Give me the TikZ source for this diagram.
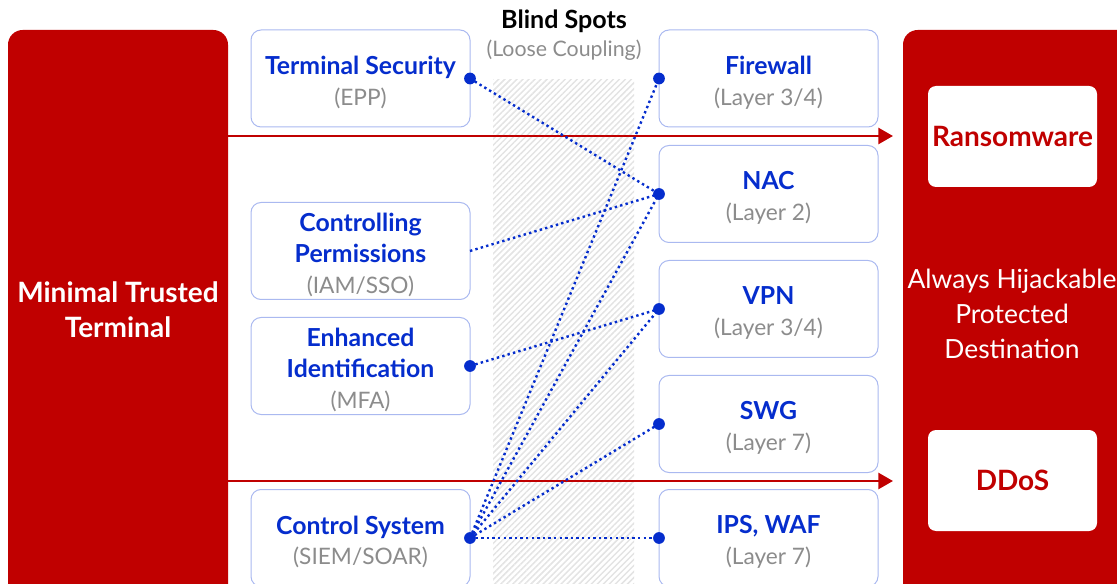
\documentclass[tikz,border=0pt]{standalone}
\usepackage{fontspec}
\setmainfont{Lato}
\usetikzlibrary{patterns.meta,arrows.meta}
\definecolor{brandred}{RGB}{192,0,0}
\definecolor{linkblue}{RGB}{5,45,205}
\definecolor{boxline}{RGB}{170,185,240}
\definecolor{subgray}{RGB}{140,140,140}
\newcommand{\boxtitle}[1]{{\fontsize{18.6pt}{23pt}\selectfont\bfseries\color{linkblue}#1}}
\newcommand{\boxsub}[1]{{\fontsize{17pt}{23pt}\selectfont\color{subgray}#1}}
\tikzset{
  ctrlbox/.style={draw=boxline, line width=0.75pt, rounded corners=7.5pt, fill=white,
    minimum width=164.25pt, minimum height=72.75pt, inner sep=0pt, outer sep=0pt},
  ctrltext/.style={align=center, inner sep=0pt, yshift=-3pt,
    font=\fontsize{18.6pt}{23pt}\selectfont},
  panel/.style={fill=brandred, rounded corners=11pt},
  threatbox/.style={fill=white, rounded corners=6pt, minimum width=126.75pt,
    minimum height=75.75pt, inner sep=0pt, text=brandred,
    font=\fontsize{21pt}{24pt}\selectfont\bfseries},
  attack/.style={draw=brandred, line width=2pt, -{Triangle[length=11pt,width=12pt]}},
  link/.style={draw=linkblue, line width=1.8pt, dash pattern=on 1.8pt off 2.4pt},
  port/.style={fill=linkblue},
}
% a control box and its caption
\newcommand{\ctrl}[3]{%
  \node[ctrlbox] (#1) at (#2) {};
  \node[ctrltext] (#1-text) at (#2) {#3};}
\begin{document}
\begin{tikzpicture}[x=0.75pt, y=-0.75pt]
\useasboundingbox (0,0) rectangle (1117,584);
\clip (0,0) rectangle (1117,584);

% hatched gap between the two columns
\fill[pattern={Lines[angle=45,distance=3.2pt,line width=1.1pt]}, pattern color=black!11]
  (493,80) rectangle (634,600);

% heading over the gap
\node[font=\fontsize{18.8pt}{22pt}\selectfont\bfseries] (bshead) at (564,21) {Blind Spots};
\node[font=\fontsize{16pt}{20pt}\selectfont, text=subgray] (bssub) at (564,50) {(Loose Coupling)};

% source and destination panels
\fill[panel] (8,30) rectangle (228,640);
\node[text=white, align=center, font=\fontsize{21pt}{26.25pt}\selectfont\bfseries] (term) at (118,310)
  {Minimal Trusted\\Terminal};
\fill[panel] (903,30) rectangle (1160,640);
\node[text=white, align=center, font=\fontsize{19.8pt}{26.25pt}\selectfont] (dest) at (1012,314)
  {Always Hijackable\\Protected\\Destination};
\node[threatbox] (ransom) at (1012.5,136.5) {Ransomware};
\node[threatbox] (ddos) at (1012.5,480.5) {DDoS};

% attack paths
\coordinate (a1s) at (228,136);
\coordinate (a1e) at (893,136);
\coordinate (a2s) at (228,481);
\coordinate (a2e) at (893,481);
\draw[attack] (a1s) -- (a1e);
\draw[attack] (a2s) -- (a2e);

% terminal-side controls
\ctrl{epp}{360.5,78.5}{\boxtitle{Terminal Security}\\\boxsub{(EPP)}}
\ctrl{iam}{360.5,251}{\boxtitle{Controlling}\\\boxtitle{Permissions}\\\boxsub{(IAM/SSO)}}
\ctrl{mfa}{360.5,366}{\boxtitle{Enhanced}\\\boxtitle{Identification}\\\boxsub{(MFA)}}
\ctrl{siem}{360.5,538}{\boxtitle{Control System}\\\boxsub{(SIEM/SOAR)}}

% network-side controls
\ctrl{fw}{768.5,78.5}{\boxtitle{Firewall}\\\boxsub{(Layer 3/4)}}
\ctrl{nac}{768.5,194}{\boxtitle{NAC}\\\boxsub{(Layer 2)}}
\ctrl{vpn}{768.5,309}{\boxtitle{VPN}\\\boxsub{(Layer 3/4)}}
\ctrl{swg}{768.5,424}{\boxtitle{SWG}\\\boxsub{(Layer 7)}}
\ctrl{ips}{768.5,538}{\boxtitle{IPS, WAF}\\\boxsub{(Layer 7)}}

% loose couplings
\draw[link] (epp.east) -- (nac.west);
\draw[link] (iam.east) -- (nac.west);
\draw[link] (mfa.east) -- (vpn.west);
\foreach \t in {fw,nac,vpn,swg,ips}
  \draw[link] (siem.east) -- (\t.west);

% connection points
\foreach \p in {epp.east,mfa.east,siem.east,fw.west,nac.west,vpn.west,swg.west,ips.west}
  \fill[port] (\p) circle[radius=4.4pt];
\end{tikzpicture}
\end{document}
